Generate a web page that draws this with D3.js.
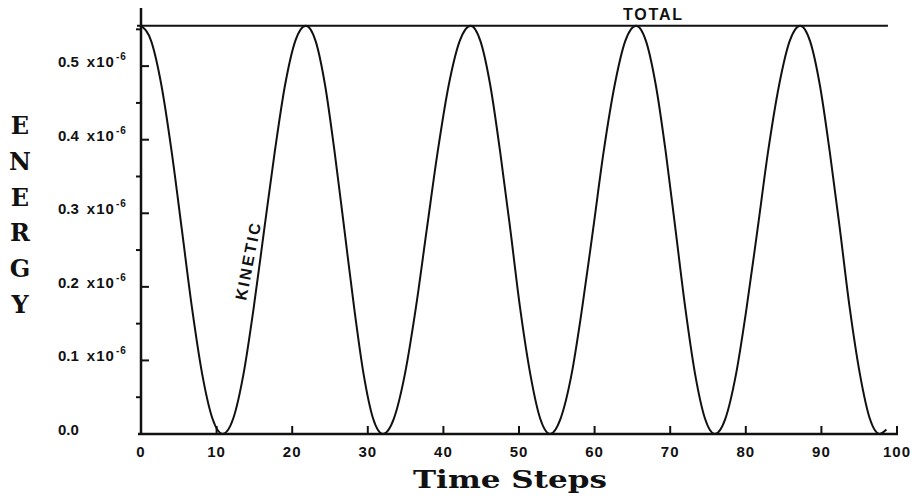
<!DOCTYPE html>
<html>
<head>
<meta charset="utf-8">
<script src="https://cdn.jsdelivr.net/npm/d3@7"></script>
<style>
  html, body { margin: 0; padding: 0; background: #fff; }
  svg { display: block; }
  .tick-label { font-family: "Liberation Sans", sans-serif; font-weight: bold; font-size: 15px; fill: #111; }
  .slab { font-family: "DejaVu Serif", serif; font-weight: bold; fill: #111; }
  .tag { font-family: "Liberation Sans", sans-serif; font-weight: bold; font-size: 16px; fill: #111; }
</style>
</head>
<body>
<div id="chart"></div>
<script>
// values (energy in units of 1e-6)
const timeSteps = [
  0, 1.35, 2.7, 4.05, 5.4, 6.75, 8.1, 9.45, 10.8,
  12.2, 13.55, 14.9, 16.3, 17.7, 19.05, 20.4, 21.8,
  23.1, 24.35, 25.6, 26.9, 28.2, 29.45, 30.7, 32.0,
  33.45, 34.9, 36.35, 37.8, 39.25, 40.7, 42.15, 43.6,
  44.9, 46.2, 47.5, 48.85, 50.15, 51.5, 52.8, 54.1,
  55.5, 56.95, 58.35, 59.8, 61.2, 62.65, 64.05, 65.5,
  66.8, 68.1, 69.4, 70.7, 72.0, 73.3, 74.6, 75.9,
  77.3, 78.7, 80.1, 81.55, 82.95, 84.4, 85.8, 87.2,
  88.5, 89.8, 91.1, 92.45, 93.75, 95.1, 96.4, 97.7,
  98.6
];
const kineticEnergy = [
  0.555, 0.534, 0.474, 0.384, 0.278, 0.171, 0.081, 0.021, 0.000,
  0.021, 0.081, 0.171, 0.278, 0.384, 0.474, 0.534, 0.555,
  0.534, 0.474, 0.384, 0.278, 0.171, 0.081, 0.021, 0.000,
  0.021, 0.081, 0.171, 0.278, 0.384, 0.474, 0.534, 0.555,
  0.534, 0.474, 0.384, 0.278, 0.171, 0.081, 0.021, 0.000,
  0.021, 0.081, 0.171, 0.278, 0.384, 0.474, 0.534, 0.555,
  0.534, 0.474, 0.384, 0.278, 0.171, 0.081, 0.021, 0.000,
  0.021, 0.081, 0.171, 0.278, 0.384, 0.474, 0.534, 0.555,
  0.534, 0.474, 0.384, 0.278, 0.171, 0.081, 0.021, 0.000,
  0.006
];
const totalEnergy = 0.555;
const totalSpan = [0, 98.8];

const xTicks = [0, 10, 20, 30, 40, 50, 60, 70, 80, 90, 100];
const yTicks = [0.0, 0.1, 0.2, 0.3, 0.4, 0.5];
const yMinorTicks = [0.05, 0.15, 0.25, 0.35, 0.45, 0.55];
const yLetters = ['E', 'N', 'E', 'R', 'G', 'Y'];

const W = 915, H = 501;
const INK = '#111';

const svg = d3.select('#chart').append('svg')
  .attr('width', W)
  .attr('height', H);

const x = d3.scaleLinear().domain([0, 100]).range([141, 897]);
const y = d3.scaleLinear().domain([0, 0.579]).range([434, 8]);

// x axis: line, upward ticks, labels under
const xAxis = svg.append('g');
xAxis.append('line')
  .attr('x1', x(0) - 3).attr('x2', x(100) + 1)
  .attr('y1', y(0)).attr('y2', y(0))
  .attr('stroke', INK).attr('stroke-width', 2.5);

xAxis.selectAll('.xtick')
  .data(xTicks.filter(d => d > 0))
  .join('line')
  .attr('x1', d => x(d)).attr('x2', d => x(d))
  .attr('y1', y(0)).attr('y2', y(0) - 8)
  .attr('stroke', INK).attr('stroke-width', 2);

xAxis.selectAll('.xlabel')
  .data(xTicks)
  .join('text')
  .attr('class', 'tick-label')
  .attr('x', d => x(d))
  .attr('y', y(0) + 23)
  .attr('text-anchor', 'middle')
  .attr('letter-spacing', 1)
  .text(d => d);

// y axis: line, right-pointing major ticks, left-pointing minor ticks
const yAxis = svg.append('g');
yAxis.append('line')
  .attr('x1', x(0)).attr('x2', x(0))
  .attr('y1', y(0) + 1).attr('y2', y.range()[1])
  .attr('stroke', INK).attr('stroke-width', 2.5);

yAxis.selectAll('.ytick')
  .data(yTicks.filter(d => d > 0))
  .join('line')
  .attr('x1', x(0)).attr('x2', x(0) + 8)
  .attr('y1', d => y(d)).attr('y2', d => y(d))
  .attr('stroke', INK).attr('stroke-width', 2);

yAxis.selectAll('.yminor')
  .data(yMinorTicks)
  .join('line')
  .attr('x1', x(0) - 5).attr('x2', x(0))
  .attr('y1', d => y(d)).attr('y2', d => y(d))
  .attr('stroke', INK).attr('stroke-width', 2);

const yLabels = yAxis.selectAll('.ylabel')
  .data(yTicks)
  .join('text')
  .attr('class', 'tick-label')
  .attr('x', 58)
  .attr('y', d => y(d) + 1);

yLabels.append('tspan').text(d => d.toFixed(1));
yLabels.filter(d => d > 0).append('tspan')
  .attr('dx', 8).attr('letter-spacing', 1).text('x10');
yLabels.filter(d => d > 0).append('tspan')
  .attr('font-size', 10).attr('dx', 1).attr('dy', -7).attr('letter-spacing', 1).text('-6');

// total energy line
svg.append('line')
  .attr('x1', x(totalSpan[0]) - 4).attr('x2', x(totalSpan[1]))
  .attr('y1', y(totalEnergy)).attr('y2', y(totalEnergy))
  .attr('stroke', INK).attr('stroke-width', 2);

svg.append('text')
  .attr('class', 'tag')
  .attr('x', 623).attr('y', 20)
  .attr('textLength', 59)
  .text('TOTAL');

// kinetic energy curve
const points = timeSteps.map((t, i) => [t, kineticEnergy[i]]);
const line = d3.line()
  .x(d => x(d[0]))
  .y(d => y(d[1]))
  .curve(d3.curveMonotoneX);

svg.append('path')
  .datum(points)
  .attr('d', line)
  .attr('fill', 'none')
  .attr('stroke', INK)
  .attr('stroke-width', 2);

svg.append('text')
  .attr('class', 'tag')
  .attr('transform', 'translate(246,301) rotate(-79)')
  .attr('textLength', 78)
  .text('KINETIC');

// axis titles
svg.append('text')
  .attr('class', 'slab')
  .attr('x', 413).attr('y', 488)
  .attr('font-size', 25)
  .attr('textLength', 194)
  .attr('lengthAdjust', 'spacingAndGlyphs')
  .text('Time Steps');

svg.selectAll('.yletter')
  .data(yLetters)
  .join('text')
  .attr('class', 'slab')
  .attr('x', 20)
  .attr('y', (d, i) => 134 + i * 35.8)
  .attr('text-anchor', 'middle')
  .attr('font-size', 24)
  .text(d => d);
</script>
</body>
</html>
